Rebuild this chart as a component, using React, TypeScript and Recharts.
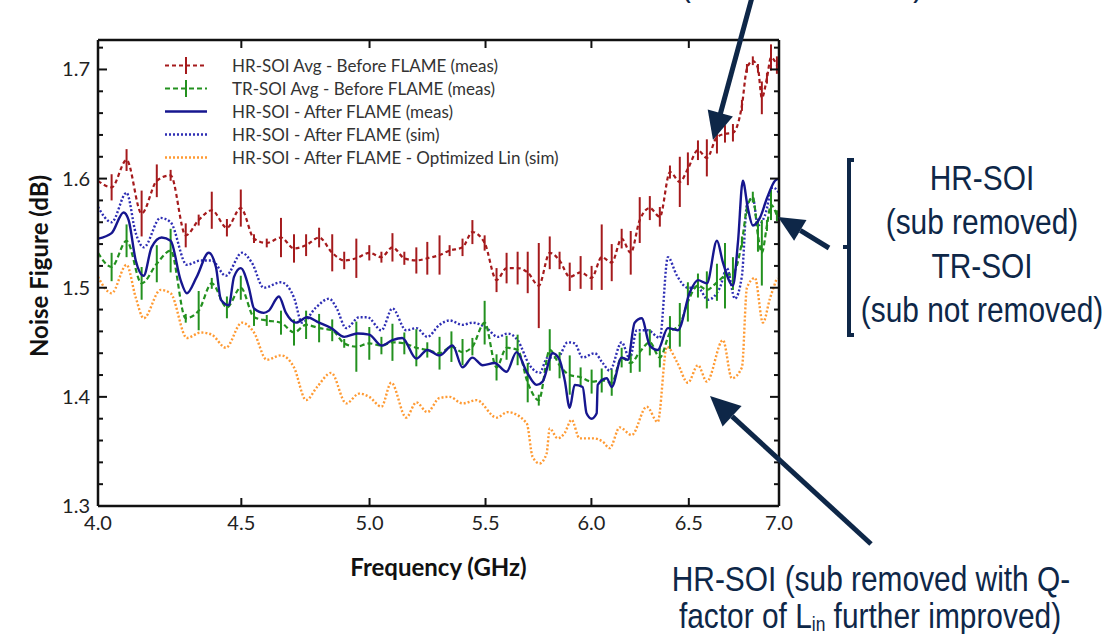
import React from "react";
import { LineChart, Line, XAxis, YAxis, ErrorBar, Legend } from "recharts";

// [frequency GHz, noise figure dB, error half-length]
const hrBefore: [number, number, number][] = [
  [4.0, 1.598, 0.01], [4.045, 1.592, 0.012], [4.095, 1.617, 0.01], [4.146, 1.568, 0.021],
  [4.198, 1.598, 0.015], [4.246, 1.603, 0.005], [4.299, 1.548, 0.011], [4.345, 1.562, 0.005],
  [4.392, 1.571, 0.017], [4.447, 1.555, 0.008], [4.498, 1.573, 0.017], [4.547, 1.545, 0.004],
  [4.595, 1.541, 0.004], [4.649, 1.546, 0.018], [4.699, 1.536, 0.013], [4.746, 1.539, 0.01],
  [4.797, 1.546, 0.009], [4.849, 1.532, 0.017], [4.897, 1.525, 0.008], [4.946, 1.527, 0.018],
  [4.999, 1.532, 0.007], [5.049, 1.528, 0.005], [5.095, 1.537, 0.013], [5.145, 1.527, 0.006],
  [5.196, 1.525, 0.012], [5.243, 1.527, 0.015], [5.296, 1.53, 0.018], [5.34, 1.534, 0.005],
  [5.397, 1.537, 0.008], [5.441, 1.551, 0.011], [5.496, 1.541, 0.007], [5.55, 1.507, 0.011],
  [5.596, 1.518, 0.014], [5.647, 1.518, 0.015], [5.694, 1.514, 0.019], [5.746, 1.502, 0.039],
  [5.798, 1.532, 0.015], [5.845, 1.525, 0.008], [5.894, 1.51, 0.013], [5.947, 1.514, 0.015],
  [6.001, 1.509, 0.011], [6.051, 1.528, 0.03], [6.101, 1.523, 0.017], [6.151, 1.545, 0.009],
  [6.197, 1.532, 0.02], [6.243, 1.562, 0.021], [6.295, 1.573, 0.011], [6.347, 1.565, 0.009],
  [6.4, 1.606, 0.006], [6.452, 1.597, 0.023], [6.495, 1.609, 0.015], [6.549, 1.626, 0.009],
  [6.597, 1.619, 0.017], [6.652, 1.638, 0.015], [6.696, 1.641, 0.008], [6.74, 1.642, 0.008],
  [6.79, 1.667, 0.005], [6.818, 1.701, 0.004], [6.851, 1.708, 0.004], [6.88, 1.701, 0.004],
  [6.902, 1.674, 0.015], [6.931, 1.692, 0.005], [6.954, 1.711, 0.012], [6.988, 1.704, 0.008],
];

const trBefore: [number, number, number][] = [
  [4.0, 1.532, 0.005], [4.045, 1.519, 0.013], [4.095, 1.543, 0.015], [4.146, 1.504, 0.015],
  [4.198, 1.522, 0.017], [4.246, 1.534, 0.02], [4.299, 1.472, 0.004], [4.345, 1.479, 0.018],
  [4.392, 1.504, 0.005], [4.447, 1.482, 0.01], [4.498, 1.5, 0.011], [4.547, 1.473, 0.008],
  [4.595, 1.47, 0.005], [4.649, 1.468, 0.011], [4.699, 1.459, 0.012], [4.746, 1.466, 0.013],
  [4.797, 1.463, 0.013], [4.849, 1.461, 0.01], [4.897, 1.449, 0.004], [4.946, 1.446, 0.023],
  [4.999, 1.449, 0.015], [5.049, 1.447, 0.008], [5.095, 1.45, 0.017], [5.145, 1.449, 0.01],
  [5.196, 1.445, 0.017], [5.243, 1.443, 0.007], [5.296, 1.44, 0.015], [5.348, 1.446, 0.014],
  [5.397, 1.441, 0.012], [5.441, 1.446, 0.008], [5.496, 1.468, 0.02], [5.55, 1.427, 0.012],
  [5.596, 1.445, 0.011], [5.647, 1.443, 0.014], [5.694, 1.413, 0.018], [5.746, 1.397, 0.005],
  [5.798, 1.443, 0.019], [5.845, 1.429, 0.012], [5.894, 1.42, 0.018], [5.947, 1.418, 0.009],
  [6.001, 1.414, 0.011], [6.051, 1.415, 0.011], [6.101, 1.413, 0.012], [6.151, 1.436, 0.009],
  [6.197, 1.431, 0.009], [6.243, 1.441, 0.018], [6.295, 1.45, 0.012], [6.347, 1.436, 0.009],
  [6.4, 1.459, 0.015], [6.452, 1.466, 0.02], [6.495, 1.487, 0.018], [6.549, 1.502, 0.011],
  [6.597, 1.498, 0.017], [6.652, 1.505, 0.017], [6.696, 1.511, 0.03], [6.74, 1.513, 0.015],
  [6.79, 1.542, 0.005], [6.818, 1.573, 0.005], [6.851, 1.583, 0.005], [6.88, 1.548, 0.015],
  [6.902, 1.532, 0.03], [6.931, 1.557, 0.005], [6.954, 1.576, 0.014], [6.988, 1.566, 0.005],
];

const hrAfterMeas: [number, number][] = [
  [4.0, 1.545], [4.045, 1.55], [4.085, 1.569], [4.102, 1.562], [4.126, 1.525], [4.153, 1.511],
  [4.18, 1.537], [4.215, 1.546], [4.246, 1.543], [4.281, 1.507], [4.303, 1.495], [4.338, 1.51],
  [4.381, 1.532], [4.407, 1.519], [4.425, 1.489], [4.454, 1.484], [4.473, 1.51], [4.498, 1.518],
  [4.528, 1.5], [4.547, 1.481], [4.584, 1.477], [4.603, 1.479], [4.641, 1.492], [4.668, 1.477],
  [4.707, 1.468], [4.75, 1.473], [4.797, 1.468], [4.845, 1.463], [4.897, 1.455], [4.95, 1.458],
  [4.999, 1.457], [5.049, 1.447], [5.095, 1.452], [5.136, 1.454], [5.196, 1.435], [5.243, 1.443],
  [5.296, 1.438], [5.353, 1.447], [5.397, 1.427], [5.441, 1.436], [5.487, 1.429], [5.541, 1.431],
  [5.596, 1.423], [5.642, 1.441], [5.689, 1.423], [5.736, 1.411], [5.764, 1.414], [5.812, 1.44],
  [5.845, 1.434], [5.87, 1.415], [5.894, 1.39], [5.918, 1.411], [5.957, 1.409], [5.976, 1.385],
  [6.001, 1.38], [6.026, 1.385], [6.031, 1.411], [6.076, 1.417], [6.101, 1.409], [6.151, 1.436],
  [6.182, 1.434], [6.217, 1.468], [6.253, 1.472], [6.295, 1.447], [6.336, 1.443], [6.389, 1.463],
  [6.442, 1.461], [6.506, 1.496], [6.549, 1.507], [6.597, 1.504], [6.652, 1.543], [6.685, 1.523],
  [6.74, 1.502], [6.768, 1.542], [6.795, 1.598], [6.823, 1.573], [6.851, 1.557], [6.891, 1.564],
  [6.931, 1.582], [6.977, 1.598], [7.0, 1.6],
];

const hrAfterSim: [number, number][] = [
  [4.0, 1.574], [4.045, 1.56], [4.095, 1.587], [4.126, 1.55], [4.153, 1.537], [4.211, 1.564],
  [4.246, 1.56], [4.303, 1.521], [4.353, 1.525], [4.392, 1.525], [4.443, 1.511], [4.502, 1.532],
  [4.539, 1.523], [4.584, 1.5], [4.649, 1.505], [4.699, 1.491], [4.73, 1.468], [4.785, 1.482],
  [4.837, 1.49], [4.865, 1.482], [4.905, 1.463], [4.958, 1.473], [4.991, 1.473], [5.049, 1.461],
  [5.095, 1.481], [5.153, 1.461], [5.196, 1.463], [5.243, 1.455], [5.296, 1.466], [5.34, 1.47],
  [5.397, 1.466], [5.441, 1.468], [5.505, 1.463], [5.555, 1.455], [5.601, 1.458], [5.647, 1.452],
  [5.703, 1.429], [5.75, 1.422], [5.788, 1.436], [5.836, 1.436], [5.884, 1.45], [5.918, 1.449],
  [5.957, 1.436], [6.016, 1.44], [6.056, 1.431], [6.091, 1.424], [6.151, 1.45], [6.192, 1.435],
  [6.228, 1.461], [6.284, 1.461], [6.347, 1.454], [6.389, 1.528], [6.437, 1.511], [6.495, 1.5],
  [6.549, 1.5], [6.603, 1.489], [6.668, 1.5], [6.707, 1.518], [6.751, 1.49], [6.79, 1.511],
  [6.818, 1.576], [6.851, 1.582], [6.88, 1.557], [6.919, 1.566], [6.965, 1.592], [7.0, 1.587],
];

const hrOptLin: [number, number][] = [
  [4.0, 1.51], [4.045, 1.495], [4.095, 1.521], [4.126, 1.491], [4.153, 1.472], [4.211, 1.498],
  [4.246, 1.495], [4.303, 1.454], [4.353, 1.459], [4.392, 1.457], [4.443, 1.445], [4.502, 1.468],
  [4.547, 1.459], [4.595, 1.434], [4.649, 1.438], [4.699, 1.427], [4.746, 1.397], [4.789, 1.409],
  [4.845, 1.422], [4.905, 1.394], [4.958, 1.403], [4.999, 1.4], [5.049, 1.391], [5.09, 1.413],
  [5.153, 1.381], [5.196, 1.395], [5.243, 1.386], [5.296, 1.399], [5.34, 1.4], [5.397, 1.394],
  [5.46, 1.397], [5.55, 1.381], [5.601, 1.386], [5.689, 1.376], [5.717, 1.345], [5.75, 1.339],
  [5.783, 1.348], [5.798, 1.371], [5.836, 1.362], [5.87, 1.367], [5.903, 1.379], [5.942, 1.362],
  [6.006, 1.362], [6.056, 1.359], [6.091, 1.353], [6.141, 1.372], [6.202, 1.365], [6.279, 1.391],
  [6.336, 1.377], [6.384, 1.446], [6.437, 1.432], [6.495, 1.413], [6.549, 1.429], [6.597, 1.414],
  [6.685, 1.452], [6.734, 1.417], [6.79, 1.427], [6.818, 1.5], [6.863, 1.509], [6.908, 1.468],
  [6.948, 1.49], [6.988, 1.509],
];

const xTicks = [4.0, 4.5, 5.0, 5.5, 6.0, 6.5, 7.0];
const yTicks = [
  1.3, 1.32, 1.34, 1.36, 1.38, 1.4, 1.42, 1.44, 1.46, 1.48, 1.5, 1.52, 1.54, 1.56,
  1.58, 1.6, 1.62, 1.64, 1.66, 1.68, 1.7, 1.72,
];
const yDomain: [number, number] = [1.3, 1.727];
const xDomain: [number, number] = [4, 7];

const seriesNames = [
  "HR-SOI Avg - Before FLAME (meas)",
  "TR-SOI Avg - Before FLAME (meas)",
  "HR-SOI - After FLAME (meas)",
  "HR-SOI - After FLAME (sim)",
  "HR-SOI - After FLAME - Optimized Lin (sim)",
];

const RED = "#a51a1c";
const GREEN = "#23911f";
const NAVY = "#16168f";
const BLUE_DOT = "#2e2eb4";
const ORANGE = "#ff9a33";
const ANNOT = "#0e2748";
const FONT = "Lato, 'Open Sans', sans-serif";

const errRows = (arr: [number, number, number][]) => arr.map(([f, v, e]) => ({ f, v, e }));
const rows = (arr: [number, number][]) => arr.map(([f, v]) => ({ f, v }));

const isMajor = (v: number) => Math.abs(v * 10 - Math.round(v * 10)) < 1e-6;

const BottomTick = (props: any) => {
  const { x, y, payload } = props;
  return (
    <g>
      <line x1={x} y1={y} x2={x} y2={y - 8} stroke="#111" strokeWidth={2} />
      <text x={x} y={y + 24} textAnchor="middle" fontSize={20} fill="#222" fontFamily={FONT}>
        {Number(payload.value).toFixed(1)}
      </text>
    </g>
  );
};
const TopTick = (props: any) => {
  const { x, y } = props;
  return <line x1={x} y1={y} x2={x} y2={y + 8} stroke="#111" strokeWidth={2} />;
};
const LeftTick = (props: any) => {
  const { x, y, payload } = props;
  const major = isMajor(payload.value);
  return (
    <g>
      <line x1={x} y1={y} x2={x + (major ? 9 : 5)} y2={y} stroke="#111" strokeWidth={2} />
      {major && (
        <text x={x - 8} y={y + 7} textAnchor="end" fontSize={20} fill="#222" fontFamily={FONT}>
          {Number(payload.value).toFixed(1)}
        </text>
      )}
    </g>
  );
};
const RightTick = (props: any) => {
  const { x, y, payload } = props;
  const major = isMajor(payload.value);
  return <line x1={x} y1={y} x2={x - (major ? 9 : 5)} y2={y} stroke="#111" strokeWidth={2} />;
};

const YTitle = (props: any) => {
  const { x, y, width, height } = props.viewBox;
  const cx = x + width - 60;
  const cy = y + height / 2 - 7;
  return (
    <text
      transform={`translate(${cx},${cy}) rotate(-90)`}
      textAnchor="middle"
      dominantBaseline="central"
      fontSize={24}
      fontWeight="bold"
      fill="#111"
      fontFamily={FONT}
    >
      Noise Figure (dB)
    </text>
  );
};
const XTitle = (props: any) => {
  const { x, y, width, height } = props.viewBox;
  return (
    <text x={x + width / 2} y={y + height + 69} textAnchor="middle" fontSize={24} fontWeight="bold" fill="#111" fontFamily={FONT}>
      Frequency (GHz)
    </text>
  );
};

const legendStyles = [
  { color: RED, dash: "4 3", bar: true, width: 2.2 },
  { color: GREEN, dash: "5 3", bar: true, width: 2.2 },
  { color: NAVY, dash: undefined, bar: false, width: 2.4 },
  { color: BLUE_DOT, dash: "2 2", bar: false, width: 2.4 },
  { color: ORANGE, dash: "2 2", bar: false, width: 2.4 },
];

const renderLegend = () => (
  <div style={{ fontFamily: FONT, fontSize: 17, color: "#333" }}>
    {seriesNames.map((name, i) => {
      const s = legendStyles[i];
      return (
        <div key={name} style={{ display: "flex", alignItems: "center", height: 23 }}>
          <svg width={50} height={23} style={{ flex: "none" }}>
            <line x1={5} y1={11.5} x2={47} y2={11.5} stroke={s.color} strokeWidth={s.width} strokeDasharray={s.dash} />
            {s.bar && <line x1={26} y1={3} x2={26} y2={20} stroke={s.color} strokeWidth={2} />}
          </svg>
          <span style={{ marginLeft: 22, whiteSpace: "nowrap" }}>{name}</span>
        </div>
      );
    })}
  </div>
);

const Annotations = () => {
  const txt = (cx: number, by: number, content: React.ReactNode) => (
    <g transform={`translate(${cx},${by}) scale(0.83,1)`}>
      <text x={0} y={0} textAnchor="middle" fontSize={36} fill={ANNOT} fontFamily="'Liberation Sans', Arial, sans-serif">
        {content}
      </text>
    </g>
  );
  return (
    <svg width={1112} height={634} style={{ position: "absolute", left: 0, top: 0, pointerEvents: "none" }}>
      {txt(802, -4, "(sub not removed)")}
      {/* top arrow */}
      <line x1={754} y1={-10} x2={720.3} y2={114} stroke={ANNOT} strokeWidth={5} />
      <polygon points="713,140 732.9,116.4 707.7,109.6" fill={ANNOT} />
      {/* right arrow */}
      <line x1={829} y1={248} x2={800.3} y2={230.4} stroke={ANNOT} strokeWidth={5} />
      <polygon points="778,217 806.5,220.1 794.1,240.7" fill={ANNOT} />
      {/* bottom arrow */}
      <line x1={871} y1={544} x2={732.1} y2={416.3} stroke={ANNOT} strokeWidth={5} />
      <polygon points="710,396 741.6,406 722.6,426.6" fill={ANNOT} />
      {/* bracket */}
      <path d="M 854 160 L 849 160 L 849 335 L 854 335 M 849 247 L 843 247" fill="none" stroke={ANNOT} strokeWidth={4} />
      {txt(982, 190, "HR-SOI")}
      {txt(982, 234, "(sub removed)")}
      {txt(982, 278, "TR-SOI")}
      {txt(982, 322, "(sub not removed)")}
      {txt(871, 591, "HR-SOI (sub removed with Q-")}
      {txt(
        870,
        628,
        <>
          factor of L
          <tspan fontSize={21} dy={3}>in</tspan>
          <tspan dy={-3}> further improved)</tspan>
        </>
      )}
    </svg>
  );
};

export default function App() {
  const axisLine = { stroke: "#111", strokeWidth: 2.5 };
  return (
    <div style={{ position: "absolute", left: 0, top: 0, width: 1112, height: 634, background: "#fff", overflow: "hidden" }}>
      <LineChart width={1112} height={634} margin={{ top: 39, right: 332, bottom: 127, left: 97 }}>
        <XAxis
          type="number"
          dataKey="f"
          scale="log"
          domain={xDomain}
          allowDataOverflow
          ticks={xTicks}
          interval={0}
          height={1}
          tickSize={0}
          tickMargin={0}
          tickLine={false}
          axisLine={axisLine}
          tick={<BottomTick />}
          label={<XTitle />}
        />
        <XAxis
          xAxisId="top"
          orientation="top"
          type="number"
          dataKey="f"
          scale="log"
          domain={xDomain}
          allowDataOverflow
          ticks={xTicks}
          interval={0}
          height={1}
          tickSize={0}
          tickMargin={0}
          tickLine={false}
          axisLine={axisLine}
          tick={<TopTick />}
        />
        <YAxis
          type="number"
          domain={yDomain}
          allowDataOverflow
          ticks={yTicks}
          interval={0}
          width={1}
          tickSize={0}
          tickMargin={0}
          tickLine={false}
          axisLine={axisLine}
          tick={<LeftTick />}
          label={<YTitle />}
        />
        <YAxis
          yAxisId="right"
          orientation="right"
          type="number"
          domain={yDomain}
          allowDataOverflow
          ticks={yTicks}
          interval={0}
          width={1}
          tickSize={0}
          tickMargin={0}
          tickLine={false}
          axisLine={axisLine}
          tick={<RightTick />}
        />
        <Legend
          layout="vertical"
          align="center"
          verticalAlign="middle"
          wrapperStyle={{ left: 160, top: 54, width: 440 }}
          content={renderLegend}
        />
        <Line
          data={rows(hrOptLin)}
          dataKey="v"
          name={seriesNames[4]}
          type="monotone"
          stroke={ORANGE}
          strokeWidth={2.4}
          strokeDasharray="2 2"
          dot={false}
          activeDot={false}
          isAnimationActive={false}
        />
        <Line
          data={rows(hrAfterSim)}
          dataKey="v"
          name={seriesNames[3]}
          type="monotone"
          stroke={BLUE_DOT}
          strokeWidth={2.4}
          strokeDasharray="2 2"
          dot={false}
          activeDot={false}
          isAnimationActive={false}
        />
        <Line
          data={errRows(trBefore)}
          dataKey="v"
          name={seriesNames[1]}
          type="monotone"
          stroke={GREEN}
          strokeWidth={2.2}
          strokeDasharray="5 3"
          dot={false}
          activeDot={false}
          isAnimationActive={false}
        >
          <ErrorBar dataKey="e" width={0} stroke={GREEN} strokeWidth={2} direction="y" />
        </Line>
        <Line
          data={rows(hrAfterMeas)}
          dataKey="v"
          name={seriesNames[2]}
          type="monotone"
          stroke={NAVY}
          strokeWidth={2.4}
          dot={false}
          activeDot={false}
          isAnimationActive={false}
        />
        <Line
          data={errRows(hrBefore)}
          dataKey="v"
          name={seriesNames[0]}
          type="monotone"
          stroke={RED}
          strokeWidth={2.2}
          strokeDasharray="4 3"
          dot={false}
          activeDot={false}
          isAnimationActive={false}
        >
          <ErrorBar dataKey="e" width={0} stroke={RED} strokeWidth={2} direction="y" />
        </Line>
      </LineChart>
      <Annotations />
    </div>
  );
}
